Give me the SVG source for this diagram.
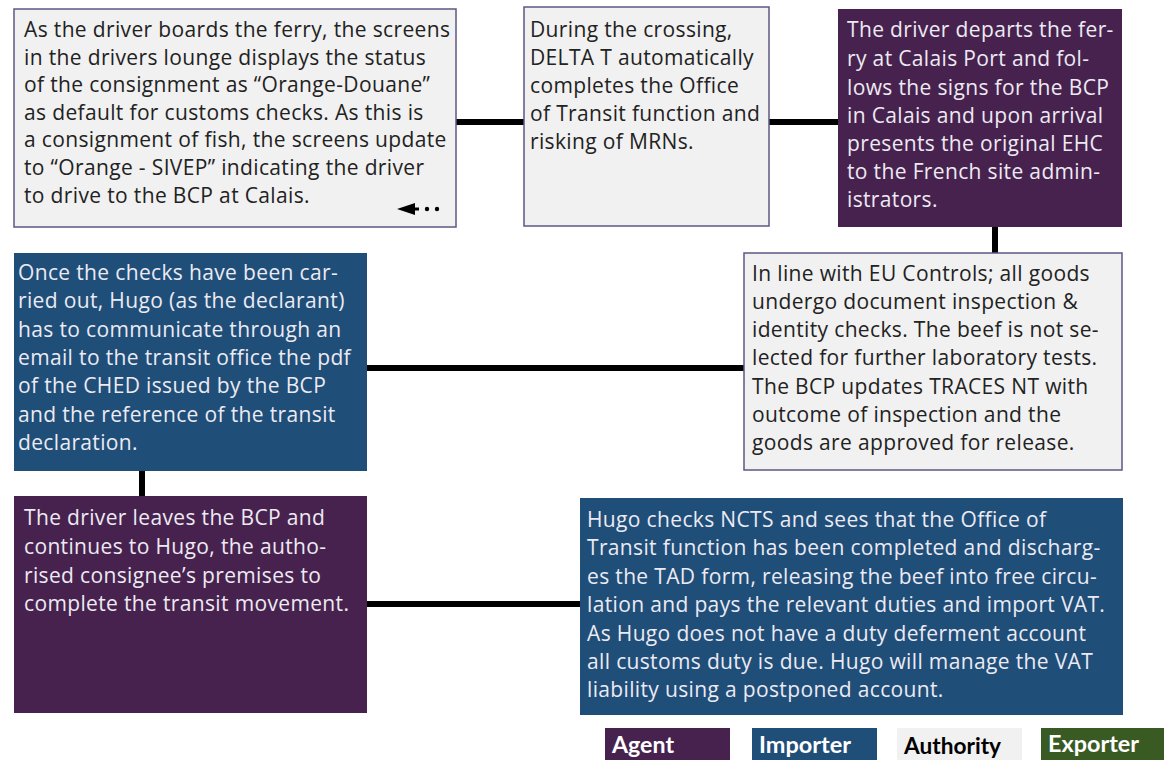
<svg xmlns="http://www.w3.org/2000/svg" width="1164" height="760" viewBox="0 0 1164 760">
<style>
text{font-family:"Open Sans","Liberation Sans",sans-serif;font-size:21px;letter-spacing:0.35px}
.auth{fill:#f1f1f1;stroke:#5b5880;stroke-width:1.5}
.agent{fill:#48224f}
.imp{fill:#1f4e79}
.exp{fill:#3a5a24}
.dk{fill:#222}
.lt{fill:#eceaf2}
.conn{stroke:#000;stroke-width:6;fill:none}
.leg{font-family:Lato,"Liberation Sans",sans-serif;font-weight:bold;font-size:22px;letter-spacing:0}
</style>
<g id="connectors">
<line class="conn" x1="456" y1="122" x2="524" y2="122"/>
<line class="conn" x1="769" y1="122" x2="838" y2="122"/>
<line class="conn" x1="995" y1="227" x2="995" y2="253"/>
<line class="conn" x1="367" y1="368" x2="744" y2="368"/>
<line class="conn" x1="142" y1="471" x2="142" y2="496"/>
<line class="conn" x1="367" y1="604" x2="580" y2="604"/>
</g>
<g id="n1">
<rect class="auth" x="14" y="9" width="442" height="218"/>
<text class="dk" x="24"><tspan x="24" y="37">As the driver boards the ferry, the screens</tspan><tspan x="24" y="65">in the drivers lounge displays the status</tspan><tspan x="24" y="92">of the consignment as “Orange-Douane”</tspan><tspan x="24" y="120">as default for customs checks. As this is</tspan><tspan x="24" y="147">a consignment of fish, the screens update</tspan><tspan x="24" y="175">to “Orange - SIVEP” indicating the driver</tspan><tspan x="24" y="203">to drive to the BCP at Calais.</tspan></text>
<polygon points="397,209 415,203 415,215" fill="#000"/>
<line x1="414" y1="209" x2="419" y2="209" stroke="#000" stroke-width="3"/>
<circle cx="427" cy="209" r="2.2" fill="#000"/>
<circle cx="437" cy="209" r="2.2" fill="#000"/>
</g>
<g id="n2">
<rect class="auth" x="524" y="7" width="245" height="219"/>
<text class="dk"><tspan x="530" y="37">During the crossing,</tspan><tspan x="530" y="65">DELTA T automatically</tspan><tspan x="530" y="93">completes the Office</tspan><tspan x="530" y="121">of Transit function and</tspan><tspan x="530" y="149">risking of MRNs.</tspan></text>
</g>
<g id="n3">
<rect class="agent" x="838" y="9" width="284" height="218"/>
<text class="lt"><tspan x="847" y="37">The driver departs the fer-</tspan><tspan x="847" y="66">ry at Calais Port and fol-</tspan><tspan x="847" y="95">lows the signs for the BCP</tspan><tspan x="847" y="123">in Calais and upon arrival</tspan><tspan x="847" y="151">presents the original EHC</tspan><tspan x="847" y="179">to the French site  admin-</tspan><tspan x="847" y="207">istrators.</tspan></text>
</g>
<g id="n4">
<rect class="auth" x="744" y="253" width="378" height="217"/>
<text class="dk"><tspan x="752" y="281">In line with EU Controls; all goods</tspan><tspan x="752" y="309">undergo document inspection &amp;</tspan><tspan x="752" y="337">identity checks. The beef is not se-</tspan><tspan x="752" y="365">lected for further laboratory tests.</tspan><tspan x="752" y="394">The BCP updates TRACES NT with</tspan><tspan x="752" y="422">outcome of inspection and the</tspan><tspan x="752" y="450">goods are approved for release.</tspan></text>
</g>
<g id="n5">
<rect class="imp" x="14" y="253" width="353" height="218"/>
<text class="lt"><tspan x="18" y="280">Once the checks have been car-</tspan><tspan x="18" y="308">ried out, Hugo (as the declarant)</tspan><tspan x="18" y="337">has to communicate through an</tspan><tspan x="18" y="365">email to the transit office the pdf</tspan><tspan x="18" y="393">of the CHED issued by the BCP</tspan><tspan x="18" y="422">and the reference of the transit</tspan><tspan x="18" y="450">declaration.</tspan></text>
</g>
<g id="n6">
<rect class="agent" x="14" y="496" width="353" height="217"/>
<text class="lt"><tspan x="24" y="525">The driver leaves the BCP and</tspan><tspan x="24" y="554">continues to Hugo, the autho-</tspan><tspan x="24" y="583">rised consignee’s premises to</tspan><tspan x="24" y="611">complete the transit movement.</tspan></text>
</g>
<g id="n7">
<rect class="imp" x="580" y="498" width="543" height="217"/>
<text class="lt"><tspan x="587" y="527">Hugo checks NCTS and sees that the Office of</tspan><tspan x="587" y="555">Transit function has been completed and discharg-</tspan><tspan x="587" y="584">es the TAD form, releasing the beef into free circu-</tspan><tspan x="587" y="612">lation and pays the relevant duties and import VAT.</tspan><tspan x="587" y="641">As Hugo does not have a duty deferment account</tspan><tspan x="587" y="669">all customs duty is due. Hugo will manage the VAT</tspan><tspan x="587" y="697">liability using a postponed account.</tspan></text>
</g>
<g id="legend">
<rect class="agent" x="605" y="728" width="125" height="32"/>
<text class="leg" x="612" y="753" fill="#fff" textLength="62" lengthAdjust="spacingAndGlyphs">Agent</text>
<rect class="imp" x="752" y="728" width="125" height="32"/>
<text class="leg" x="759" y="753" fill="#fff" textLength="92" lengthAdjust="spacingAndGlyphs">Importer</text>
<rect x="897" y="728" width="125" height="32" fill="#f1f1f1"/>
<text class="leg" x="904" y="754" fill="#000" textLength="97" lengthAdjust="spacingAndGlyphs">Authority</text>
<rect class="exp" x="1041" y="728" width="123" height="32"/>
<text class="leg" x="1048" y="752" fill="#fff" textLength="91" lengthAdjust="spacingAndGlyphs">Exporter</text>
</g>
</svg>
